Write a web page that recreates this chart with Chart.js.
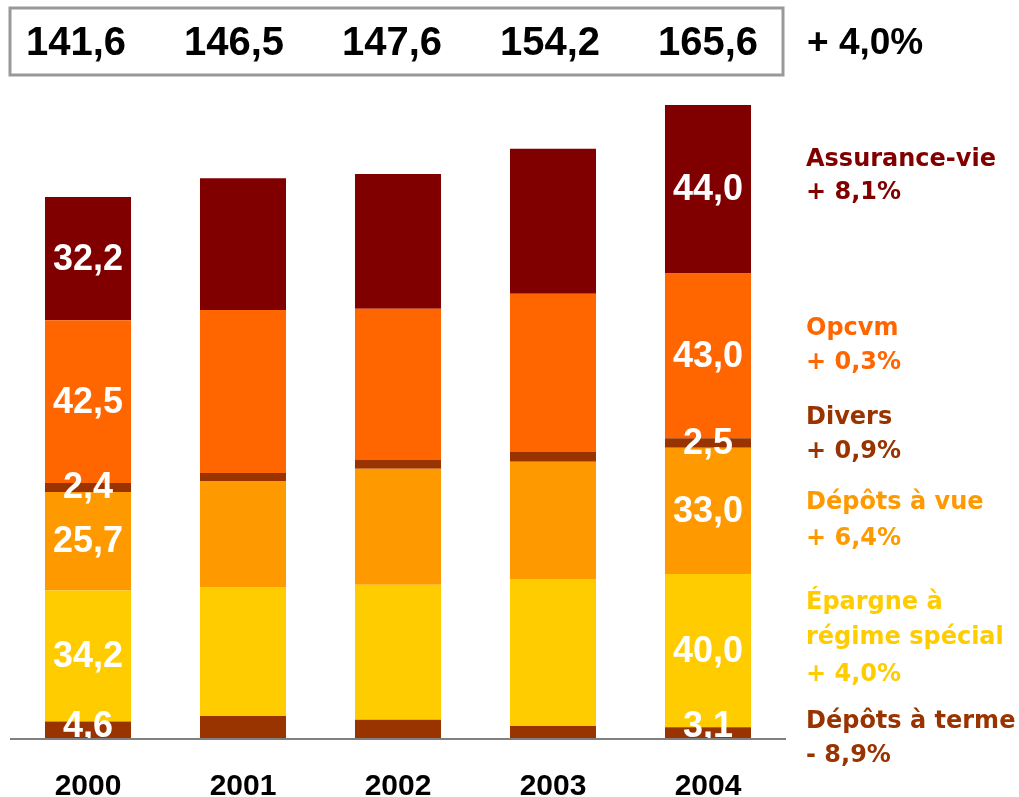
<!DOCTYPE html>
<html>
<head>
<meta charset="utf-8">
<script src="https://cdn.jsdelivr.net/npm/chart.js@4.4.1/dist/chart.umd.min.js"></script>
<style>
  body { margin: 0; background: #fff; }
</style>
</head>
<body>
<canvas id="encours" width="1019" height="797"></canvas>
<script>
// encours par catégorie (Md€)
const years = ['2000', '2001', '2002', '2003', '2004'];
const depotsTerme = [4.6, 6.0, 5.0, 3.4, 3.1];
const epargne = [34.2, 33.7, 35.3, 38.4, 40.0];
const depotsVue = [25.7, 27.7, 30.3, 30.6, 33.0];
const divers = [2.4, 2.1, 2.4, 2.6, 2.5];
const opcvm = [42.5, 42.6, 39.4, 41.3, 43.0];
const assuranceVie = [32.2, 34.4, 35.2, 37.9, 44.0];

const seriesNames = ['Dépôts à terme', 'Épargne à\nrégime spécial', 'Dépôts à vue', 'Divers', 'Opcvm', 'Assurance-vie'];
const growth = ['- 8,9%', '+ 4,0%', '+ 6,4%', '+ 0,9%', '+ 0,3%', '+ 8,1%'];
const totalGrowth = '+ 4,0%';
const labelledYears = [0, 4];

const colors = ['#993300', '#FFCC00', '#FF9900', '#993300', '#FF6600', '#800000'];
const seriesData = [depotsTerme, epargne, depotsVue, divers, opcvm, assuranceVie];

function fmt(v) {
    return v.toFixed(1).replace('.', ',');
}

const totals = years.map((y, i) => seriesData.reduce((s, d) => s + d[i], 0));

// legend text lines, y position of each line
const legendLines = [
    [5, 160], [5, 193, true],
    [4, 329], [4, 363, true],
    [3, 418], [3, 452, true],
    [2, 503], [2, 539, true],
    [1, 603], [1, 638, false, 1], [1, 675, true],
    [0, 722], [0, 756, true]
];

const extras = {
    id: 'extras',
    afterDatasetsDraw(chart) {
        const ctx = chart.ctx;
        const yScale = chart.scales.y;
        ctx.save();
        // values inside bars
        ctx.fillStyle = '#fff';
        ctx.font = 'bold 36px "Liberation Sans", Arial, sans-serif';
        ctx.textAlign = 'center';
        ctx.textBaseline = 'middle';
        chart.data.datasets.forEach((ds, d) => {
            const meta = chart.getDatasetMeta(d);
            labelledYears.forEach(i => {
                const el = meta.data[i];
                let cy = (el.y + el.base) / 2;
                cy = Math.min(cy, yScale.getPixelForValue(0) - 13);
                ctx.fillText(fmt(ds.data[i]), el.x, cy + 1);
            });
        });

        // totals box
        ctx.strokeStyle = '#999999';
        ctx.lineWidth = 3;
        ctx.strokeRect(10, 8, 773, 67);
        ctx.fillStyle = '#000';
        ctx.font = 'bold 40px "Liberation Sans", Arial, sans-serif';
        const meta0 = chart.getDatasetMeta(0);
        totals.forEach((t, i) => {
            ctx.fillText(fmt(t), meta0.data[i].x - (4 - i) * 3, 44);
        });
        ctx.textAlign = 'left';
        ctx.font = 'bold 37px "Liberation Sans", Arial, sans-serif';
        ctx.fillText(totalGrowth, 807, 44);

        // legend on the right
        ctx.font = 'bold 24px "DejaVu Sans", Verdana, sans-serif';
        legendLines.forEach(([s, y, isGrowth, part]) => {
            ctx.fillStyle = colors[s];
            let txt = isGrowth ? growth[s] : seriesNames[s].split('\n')[part || 0];
            ctx.fillText(txt, 806, y);
        });
        ctx.restore();
    }
};

new Chart(document.getElementById('encours'), {
    type: 'bar',
    data: {
        labels: years,
        datasets: seriesData.map((d, i) => ({
            label: seriesNames[i],
            data: d,
            backgroundColor: colors[i],
            borderWidth: 0,
            categoryPercentage: 1,
            barPercentage: 0.555
        }))
    },
    options: {
        responsive: false,
        animation: false,
        layout: { padding: { left: 10.5, right: 233.5, top: 50, bottom: 0 } },
        plugins: {
            legend: { display: false },
            tooltip: { enabled: false }
        },
        scales: {
            x: {
                stacked: true,
                grid: { display: true, drawOnChartArea: false, drawTicks: false },
                border: { display: true, color: '#808080', width: 2, z: 1 },
                ticks: {
                    color: '#000',
                    padding: 30,
                    font: { family: '"Liberation Sans", Arial, sans-serif', size: 30, weight: 'bold' }
                },
                afterFit(s) { s.height = 58; }
            },
            y: {
                stacked: true,
                display: false,
                min: 0,
                max: 180
            }
        }
    },
    plugins: [extras]
});
</script>
</body>
</html>
